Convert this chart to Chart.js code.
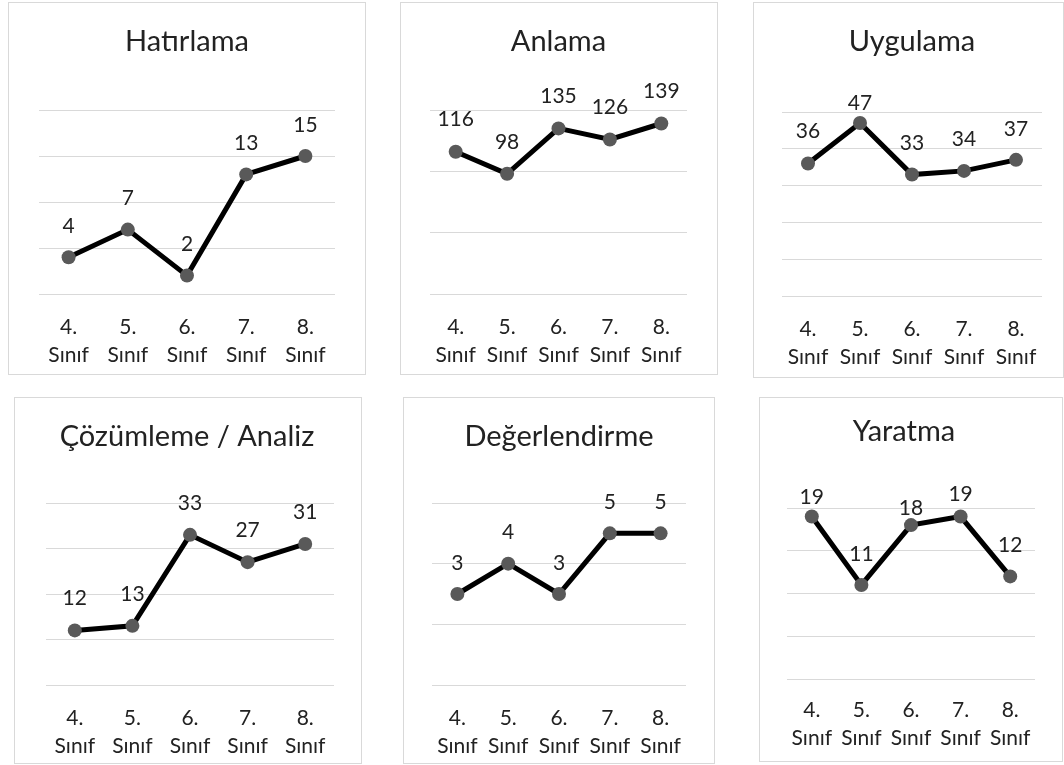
<!DOCTYPE html>
<html>
<head>
<meta charset="utf-8">
<script src="https://cdn.jsdelivr.net/npm/chart.js@4.4.1/dist/chart.umd.min.js"></script>
<style>
  html, body { margin: 0; padding: 0; background: #fff; }
  body { width: 1064px; height: 765px; position: relative; overflow: hidden; }
  .panel { position: absolute; box-sizing: border-box; border: 1px solid #d9d9d9; background: #fff; }
  .panel canvas { position: absolute; left: 0; top: 0; }
</style>
</head>
<body>
<script>
// Grade levels on the x axis (two-line labels)
const grades = [["4.", "Sınıf"], ["5.", "Sınıf"], ["6.", "Sınıf"], ["7.", "Sınıf"], ["8.", "Sınıf"]];

// Counts per cognitive level
const hatirlama     = [4, 7, 2, 13, 15];
const anlama        = [116, 98, 135, 126, 139];
const uygulama      = [36, 47, 33, 34, 37];
const cozumleme     = [12, 13, 33, 27, 31];
const degerlendirme = [3, 4, 3, 5, 5];
const yaratma       = [19, 11, 18, 19, 12];

// Value-axis ranges (max, step) for each small chart
const axisMax  = [20, 150, 50, 40, 6, 20];
const axisStep = [5, 50, 10, 10, 2, 5];

const FONT = "Lato, 'Open Sans', sans-serif";
const TEXT = "#222222";
const TITLE_SIZE = 29;
const TICK_SIZE = 21;
const TICK_LH = 28;
const LABEL_SIZE = 21;

// Panel frames and plot rectangles (page pixels)
const panels = [
  { title: "Hatırlama",          values: hatirlama,     box: [8, 2, 358, 373],   plot: [39, 335, 110, 294],  titleY: 42,  titleShift: 0,  tickGap: 33, lift: 31 },
  { title: "Anlama",             values: anlama,        box: [400, 2, 318, 373], plot: [430, 687, 110, 294], titleY: 42,  titleShift: 0,  tickGap: 33, lift: 32 },
  { title: "Uygulama",           values: uygulama,      box: [753, 2, 311, 376], plot: [782, 1042, 112, 296], titleY: 42, titleShift: 0,  tickGap: 33, lift: [32, 20, 31, 32, 31] },
  { title: "Çözümleme / Analiz", values: cozumleme,     box: [14, 397, 348, 367], plot: [46, 334, 503, 685], titleY: 437, titleShift: -3, tickGap: 33, lift: 32 },
  { title: "Değerlendirme",      values: degerlendirme, box: [403, 397, 312, 367], plot: [432, 686, 503, 685], titleY: 437, titleShift: 0, tickGap: 33, lift: 31 },
  { title: "Yaratma",            values: yaratma,       box: [759, 397, 304, 365], plot: [787, 1035, 508, 679], titleY: 432, titleShift: -7, tickGap: 31, lift: [19, 31, 17, 22, 31] }
];

// Draws each point's value above it
const valueLabels = {
  id: "valueLabels",
  afterDatasetsDraw(chart, args, opts) {
    const ctx = chart.ctx;
    const meta = chart.getDatasetMeta(0);
    const data = chart.data.datasets[0].data;
    ctx.save();
    ctx.font = LABEL_SIZE + "px " + FONT;
    ctx.fillStyle = TEXT;
    ctx.textAlign = "center";
    ctx.textBaseline = "middle";
    meta.data.forEach((pt, i) => {
      const lift = Array.isArray(opts.lift) ? opts.lift[i] : opts.lift;
      ctx.fillText(String(data[i]), pt.x, pt.y - lift);
    });
    ctx.restore();
  }
};

// Shifts the title block horizontally after layout
const titleShift = {
  id: "titleShift",
  afterLayout(chart, args, opts) {
    const t = chart.titleBlock;
    if (t && opts.dx) { t.left += opts.dx; t.right += opts.dx; }
  }
};

panels.forEach((p, idx) => {
  const div = document.createElement("div");
  div.className = "panel";
  div.style.left = p.box[0] + "px";
  div.style.top = p.box[1] + "px";
  div.style.width = p.box[2] + "px";
  div.style.height = p.box[3] + "px";
  document.body.appendChild(div);

  const cw = p.box[2] - 2, ch = p.box[3] - 2;
  const ox = p.box[0] + 1, oy = p.box[1] + 1;
  const canvas = document.createElement("canvas");
  canvas.width = cw; canvas.height = ch;
  canvas.style.width = cw + "px"; canvas.style.height = ch + "px";
  div.appendChild(canvas);

  const plotL = p.plot[0] - ox, plotR = p.plot[1] - ox;
  const plotT = p.plot[2] - oy, plotB = p.plot[3] - oy;
  const titleLH = TITLE_SIZE * 1.2;
  const titleC = p.titleY - oy;

  new Chart(canvas, {
    type: "line",
    data: {
      labels: grades,
      datasets: [{
        data: p.values,
        borderColor: "#000000",
        borderWidth: 5,
        tension: 0,
        pointRadius: 7,
        pointHoverRadius: 7,
        pointBorderWidth: 0,
        pointBackgroundColor: "#595959",
        clip: false
      }]
    },
    options: {
      responsive: false,
      animation: false,
      devicePixelRatio: 1,
      events: [],
      layout: { autoPadding: false, padding: { left: plotL, right: cw - plotR, top: 0, bottom: 0 } },
      plugins: {
        legend: { display: false },
        tooltip: { enabled: false },
        title: {
          display: true,
          text: p.title,
          color: TEXT,
          font: { family: FONT, size: TITLE_SIZE, weight: "normal", lineHeight: 1.2 },
          padding: { top: titleC - titleLH / 2, bottom: plotT - titleC - titleLH / 2 }
        },
        valueLabels: { lift: p.lift },
        titleShift: { dx: p.titleShift }
      },
      scales: {
        x: {
          type: "category",
          offset: true,
          grid: { display: false, drawTicks: false },
          border: { display: false },
          ticks: {
            color: TEXT,
            font: { family: FONT, size: TICK_SIZE, lineHeight: TICK_LH / TICK_SIZE },
            padding: p.tickGap - TICK_LH / 2,
            maxRotation: 0,
            autoSkip: false
          },
          afterFit(s) { s.height = ch - plotB; }
        },
        y: {
          min: 0,
          max: axisMax[idx],
          ticks: { display: false, stepSize: axisStep[idx] },
          grid: { color: "#d9d9d9", lineWidth: 1, drawTicks: false },
          border: { display: false },
          afterFit(s) { s.width = 0; }
        }
      }
    },
    plugins: [valueLabels, titleShift]
  });
});
</script>
</body>
</html>
